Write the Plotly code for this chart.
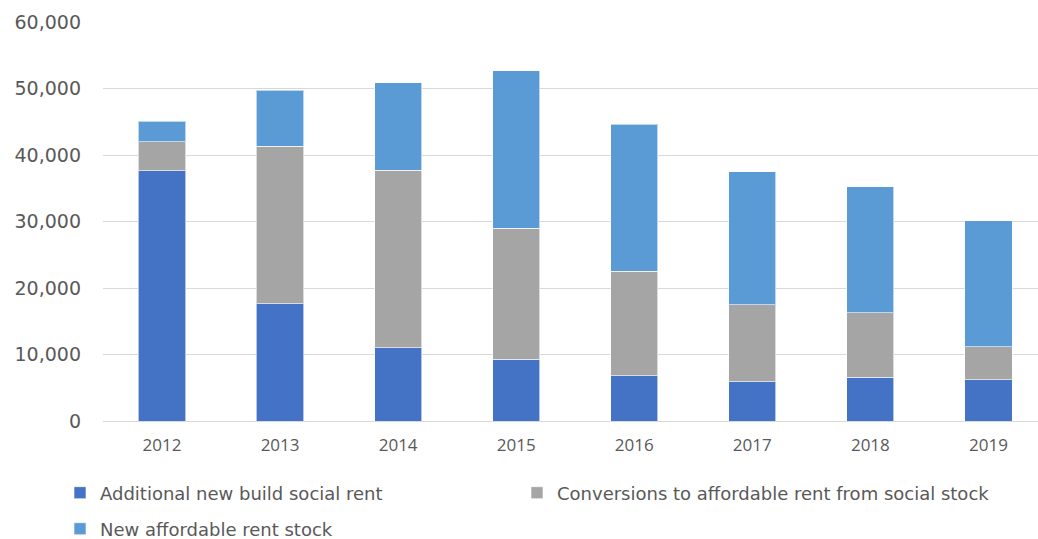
import plotly.graph_objects as go

years = ["2012", "2013", "2014", "2015", "2016", "2017", "2018", "2019"]
new_build = [37600, 17600, 11000, 9300, 6800, 5900, 6600, 6200]
conversions = [4400, 23750, 26700, 19650, 15750, 11550, 9650, 4950]
new_affordable = [3100, 8400, 13200, 23750, 22100, 20000, 18950, 18950]

names = ["Additional new build social rent",
         "Conversions to affordable rent from social stock",
         "New affordable rent stock"]
colors = ["#4472C4", "#A5A5A5", "#5B9BD5"]
legend_ids = ["legend", "legend2", "legend3"]

fig = go.Figure()
for name, vals, col, lg in zip(names, [new_build, conversions, new_affordable], colors, legend_ids):
    fig.add_trace(go.Bar(
        x=years, y=vals, name=name, legend=lg, showlegend=True,
        marker=dict(color=col, line=dict(color="rgba(255,255,255,0.6)", width=1)),
    ))

legend_font = dict(family="DejaVu Sans", size=18, color="#595959")
common = dict(orientation="h", xref="container", yref="container",
              xanchor="left", yanchor="middle", font=legend_font,
              bgcolor="rgba(0,0,0,0)")

fig.update_layout(
    showlegend=True,
    barmode="stack",
    bargap=0.6,
    width=1038, height=539,
    margin=dict(l=103, r=0, t=22, b=118),
    plot_bgcolor="white", paper_bgcolor="white",
    font=dict(family="DejaVu Sans", color="#595959"),
    xaxis=dict(
        range=[-0.5, 7.42],
        showgrid=False, showline=False, ticks="",
        tickfont=dict(family="Open Sans", size=17, color="#595959"),
        ticklabelstandoff=12,
    ),
    yaxis=dict(
        range=[0, 60000], dtick=10000, tickformat=",",
        showgrid=True, gridcolor="#D9D9D9", gridwidth=1.3,
        zeroline=True, zerolinecolor="#D9D9D9", zerolinewidth=1.3,
        tickfont=dict(family="DejaVu Sans", size=19, color="#595959"),
        ticklabelstandoff=21,
    ),
    legend=dict(x=60 / 1038, y=1 - 493 / 539, **common),
    legend2=dict(x=517 / 1038, y=1 - 493 / 539, **common),
    legend3=dict(x=60 / 1038, y=1 - 529 / 539, **common),
)

fig.write_html("out.html")
